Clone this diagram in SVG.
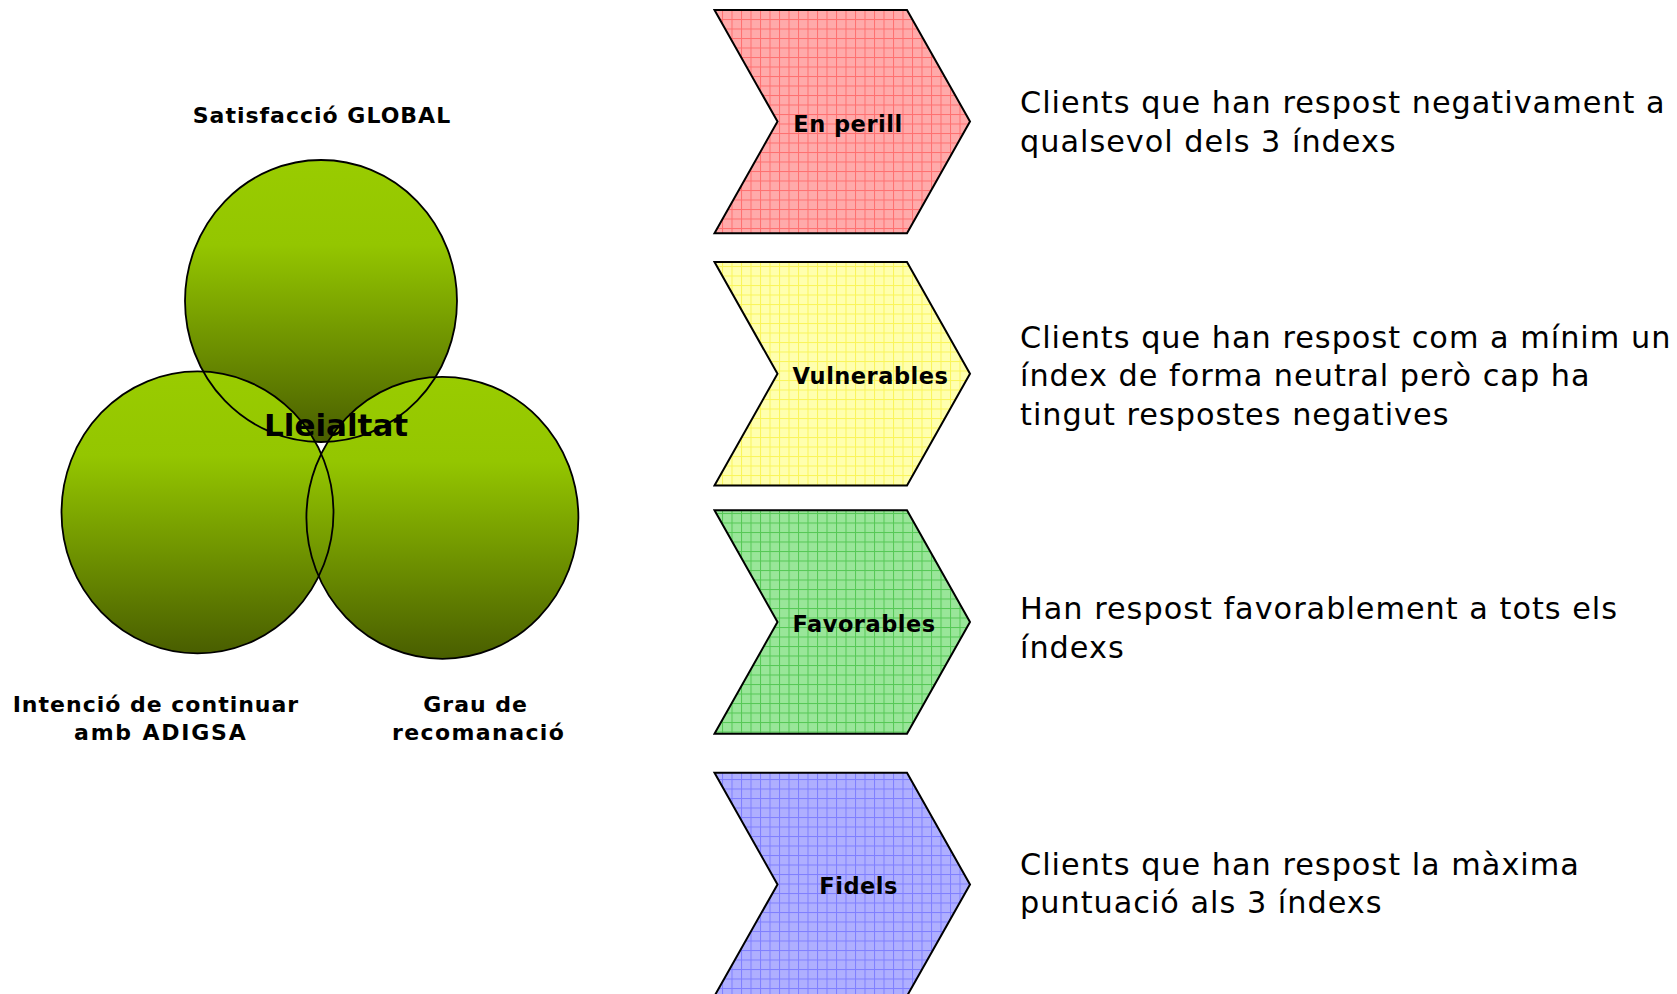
<svg xmlns="http://www.w3.org/2000/svg" width="1677" height="994" viewBox="0 0 1677 994">
<style>
.lbl{font-family:"DejaVu Sans","Verdana",sans-serif;font-weight:bold;font-size:22px;letter-spacing:1px;fill:#000}
.chv{font-family:"DejaVu Sans","Verdana",sans-serif;font-weight:bold;font-size:22.5px;letter-spacing:0.5px;fill:#000}
.big{font-family:"DejaVu Sans","Verdana",sans-serif;font-weight:bold;font-size:31px;fill:#000}
.desc{font-family:"DejaVu Sans","Verdana",sans-serif;font-size:30.3px;letter-spacing:1px;fill:#000}
.shape{stroke:#000;stroke-width:2;stroke-linejoin:miter}
.ring{fill:none;stroke:#000;stroke-width:1.8}
</style>
<defs>
<linearGradient id="g" x1="0" y1="0" x2="0" y2="1">
<stop offset="0" stop-color="#99CC00"/>
<stop offset="0.3" stop-color="#94C600"/>
<stop offset="1" stop-color="#495E00"/>
</linearGradient>
<pattern id="pRed" patternUnits="userSpaceOnUse" width="9.5" height="9.5">
<rect width="9.5" height="9.5" fill="#FFAAAA"/>
<rect width="9.5" height="1" fill="#FF7070"/>
<rect width="1" height="9.5" fill="#FF7070"/>
</pattern>
<pattern id="pYel" patternUnits="userSpaceOnUse" width="9.5" height="9.5">
<rect width="9.5" height="9.5" fill="#FFFFAE"/>
<rect width="9.5" height="1" fill="#FAF55A"/>
<rect width="1" height="9.5" fill="#FAF55A"/>
</pattern>
<pattern id="pGrn" patternUnits="userSpaceOnUse" width="9.5" height="9.5">
<rect width="9.5" height="9.5" fill="#99E699"/>
<rect width="9.5" height="1" fill="#55C855"/>
<rect width="1" height="9.5" fill="#55C855"/>
</pattern>
<pattern id="pBlu" patternUnits="userSpaceOnUse" width="9.5" height="9.5">
<rect width="9.5" height="9.5" fill="#AFAFFF"/>
<rect width="9.5" height="1" fill="#7F7FFF"/>
<rect width="1" height="9.5" fill="#7F7FFF"/>
</pattern>
</defs>
<rect width="1677" height="994" fill="#fff"/>

<g id="venn-satisfaccio">
<ellipse cx="321" cy="301" rx="136" ry="141" fill="url(#g)"/>
</g>
<g id="venn-intencio">
<ellipse cx="197.5" cy="512.4" rx="136" ry="141" fill="url(#g)"/>
</g>
<g id="venn-grau">
<ellipse cx="442.4" cy="517.8" rx="136" ry="141" fill="url(#g)"/>
</g>
<g id="venn-outlines">
<ellipse class="ring" cx="321" cy="301" rx="136" ry="141"/>
<ellipse class="ring" cx="197.5" cy="512.4" rx="136" ry="141"/>
<ellipse class="ring" cx="442.4" cy="517.8" rx="136" ry="141" stroke-width="2.6"/>
</g>
<g id="venn-labels">
<text class="lbl" x="192.7" y="123.3">Satisfacció GLOBAL</text>
<text class="lbl" x="12.7" y="711.7">Intenció de continuar</text>
<text class="lbl" x="74" y="739.5" style="letter-spacing:1.8px">amb ADIGSA</text>
<text class="lbl" x="423.3" y="711.7">Grau de</text>
<text class="lbl" x="392" y="739.5" style="letter-spacing:1.4px">recomanació</text>
<text class="big" x="264" y="435.5">Lleialtat</text>
</g>

<g id="connectors"></g>

<g id="chevron-en-perill">
<polygon class="shape" fill="url(#pRed)" points="714.5,10 907,10 970,121.6 907,233.2 714.5,233.2 777.5,121.6"/>
<text class="chv" x="793.3" y="131.7">En perill</text>
</g>
<g id="chevron-vulnerables">
<polygon class="shape" fill="url(#pYel)" points="714.5,262 907,262 970,373.8 907,485.6 714.5,485.6 777.5,373.8"/>
<text class="chv" x="792.5" y="383.8">Vulnerables</text>
</g>
<g id="chevron-favorables">
<polygon class="shape" fill="url(#pGrn)" points="714.5,510.2 907,510.2 970,622 907,733.8 714.5,733.8 777.5,622"/>
<text class="chv" x="792.5" y="632">Favorables</text>
</g>
<g id="chevron-fidels">
<polygon class="shape" fill="url(#pBlu)" points="714.5,772.7 907,772.7 970,884.4 907,996 714.5,996 777.5,884.4"/>
<text class="chv" x="819.3" y="894.3">Fidels</text>
</g>

<g id="descriptions">
<text class="desc" x="1020" y="113">Clients que han respost negativament a</text>
<text class="desc" x="1020" y="151.5">qualsevol dels 3 índexs</text>
<text class="desc" x="1020" y="347.5">Clients que han respost com a mínim un</text>
<text class="desc" x="1020" y="386">índex de forma neutral però cap ha</text>
<text class="desc" x="1020" y="424.5">tingut respostes negatives</text>
<text class="desc" x="1020" y="619">Han respost favorablement a tots els</text>
<text class="desc" x="1020" y="657.5">índexs</text>
<text class="desc" x="1020" y="874.5">Clients que han respost la màxima</text>
<text class="desc" x="1020" y="913">puntuació als 3 índexs</text>
</g>
</svg>
